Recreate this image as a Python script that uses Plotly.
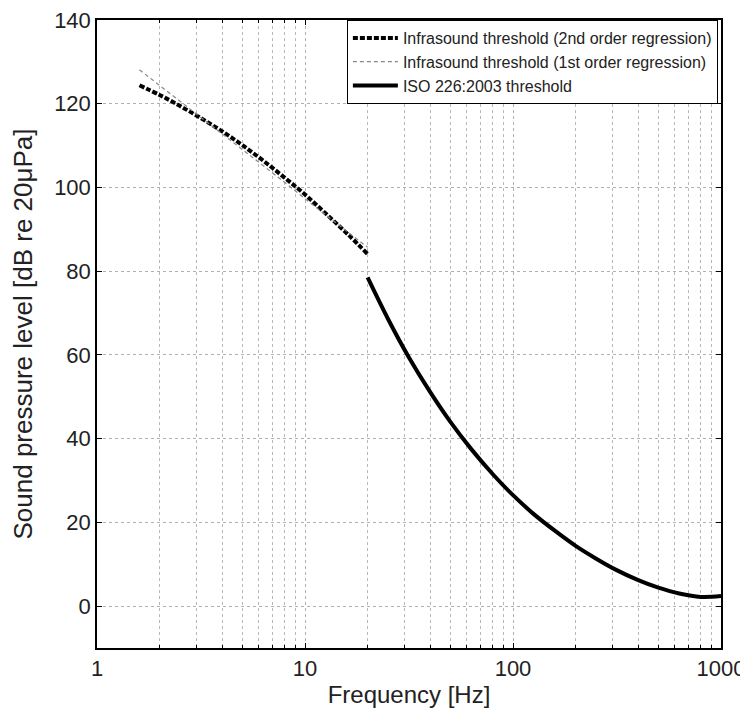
import plotly.graph_objects as go

# Infrasound thresholds (Hz, dB re 20 uPa)
infra_freq = [1.6, 2, 2.5, 3.15, 4, 5, 6.3, 8, 10, 12.5, 16, 20]
infra_2nd = [124.4, 122.1, 119.5, 116.6, 113.4, 110.1, 106.4, 102.3, 98.3, 93.9, 88.9, 84.1]
infra_1st = [128.1, 124.4, 120.7, 116.8, 112.8, 109.0, 105.2, 101.2, 97.3, 93.6, 89.5, 85.7]

# ISO 226:2003 hearing threshold
iso_freq = [20, 25, 31.5, 40, 50, 63, 80, 100, 125, 160, 200, 250, 315, 400, 500, 630, 800, 1000]
iso_thr = [78.5, 68.7, 59.5, 51.1, 44.0, 37.5, 31.5, 26.5, 22.1, 17.9, 14.4, 11.4, 8.6, 6.2, 4.4, 3.0, 2.2, 2.4]

x_ticks = [1, 10, 100, 1000]
x_minor = [m * d for d in (1, 10, 100) for m in range(2, 10)]
y_ticks = [0, 20, 40, 60, 80, 100, 120, 140]

fig = go.Figure()
fig.add_trace(go.Scatter(x=infra_freq, y=infra_2nd, mode="lines",
                         name="Infrasound threshold (2nd order regression)",
                         line=dict(color="black", width=4, dash="5px,2px", shape="spline")))
fig.add_trace(go.Scatter(x=infra_freq, y=infra_1st, mode="lines",
                         name="Infrasound threshold (1st order regression)",
                         line=dict(color="#888888", width=1.2, dash="4px,3px")))
fig.add_trace(go.Scatter(x=iso_freq, y=iso_thr, mode="lines",
                         name="ISO 226:2003 threshold",
                         line=dict(color="black", width=4, shape="spline")))

axis_common = dict(showline=True, linecolor="black", linewidth=1.5, mirror="ticks",
                   ticks="inside", tickcolor="black", ticklen=5, zeroline=False,
                   automargin=False, ticklabeloverflow="allow",
                   gridcolor="#b0b0b0", griddash="dot", gridwidth=1,
                   tickfont=dict(size=22, color="#222"))

fig.update_xaxes(type="log", range=[0, 3], tickvals=x_ticks, ticktext=[str(v) for v in x_ticks],
                 title=dict(text="Frequency [Hz]", font=dict(size=24, color="#222"), standoff=6),
                 minor=dict(tickvals=x_minor, showgrid=True, gridcolor="#b8b8b8", griddash="dot",
                            ticks="inside", ticklen=3, tickcolor="black"),
                 **axis_common)
fig.update_yaxes(range=[-10, 140], tickvals=y_ticks,
                 title=dict(text="Sound pressure level [dB re 20μPa]", font=dict(size=26, color="#222"), standoff=24),
                 **axis_common)

fig.update_layout(
    width=740, height=702,
    margin=dict(l=89, r=27, t=12, b=62),
    paper_bgcolor="white", plot_bgcolor="white",
    font=dict(family="Liberation Sans, Arial, sans-serif", color="#222"),
    showlegend=True,
    legend=dict(x=0.995, y=1.0, xanchor="right", yanchor="top",
                bgcolor="white", bordercolor="black", borderwidth=1,
                font=dict(size=16, color="#222"), tracegroupgap=0,
                itemwidth=45),
)

fig.write_html("out.html")
